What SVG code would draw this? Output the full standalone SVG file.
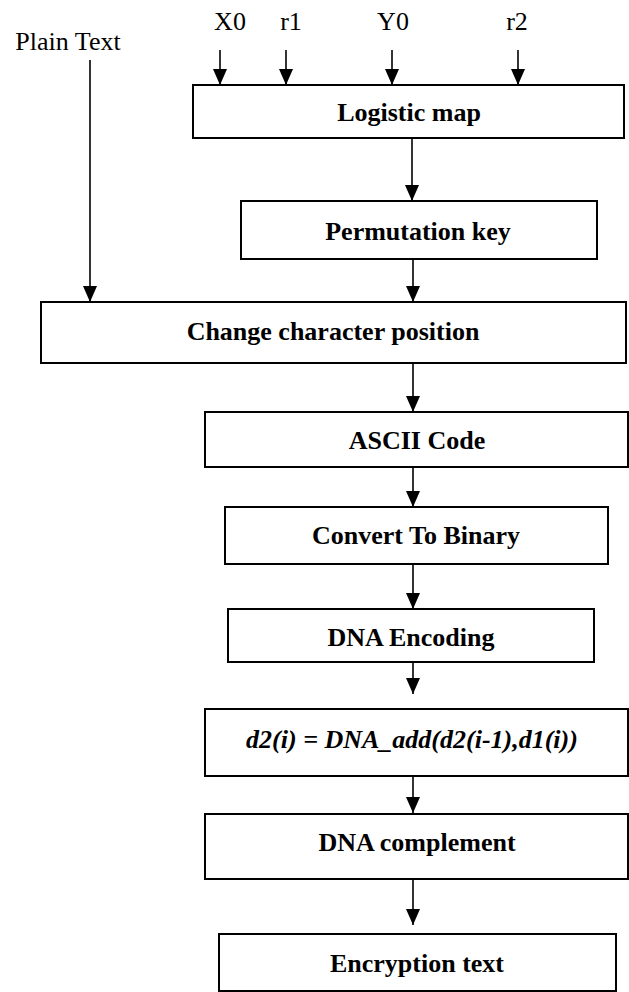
<svg xmlns="http://www.w3.org/2000/svg" width="629" height="992" viewBox="0 0 629 992">
  <style>
    .box { fill: #ffffff; stroke: #000000; stroke-width: 2; }
    .lbl { font-family: "Liberation Serif", "Times New Roman", serif; font-size: 26px; font-weight: bold; fill: #000000; text-anchor: middle; }
    .in { font-family: "Liberation Serif", "Times New Roman", serif; font-size: 26px; fill: #000000; text-anchor: middle; }
    .eq { font-style: italic; }
    .wire { stroke: #000000; stroke-width: 1.6; fill: none; marker-end: url(#head); }
  </style>
  <defs>
    <!-- solid triangular arrowhead, tip at the end of the line -->
    <marker id="head" viewBox="0 0 16 14" refX="16" refY="7" markerWidth="16" markerHeight="14" markerUnits="userSpaceOnUse" orient="auto">
      <path d="M0,0 L16,7 L0,14 Z" fill="#000000"/>
    </marker>
  </defs>

  <!-- input labels -->
  <g id="plain-text"><text class="in" x="68" y="50">Plain Text</text></g>
  <g id="x0"><text class="in" x="230" y="30">X0</text></g>
  <g id="r1"><text class="in" x="291" y="30">r1</text></g>
  <g id="y0"><text class="in" x="393" y="30">Y0</text></g>
  <g id="r2"><text class="in" x="517" y="30">r2</text></g>

  <!-- processing steps -->
  <g id="logistic-map">
    <rect class="box" x="193" y="85" width="431" height="53"/>
    <text class="lbl" x="409" y="121">Logistic map</text>
  </g>
  <g id="permutation-key">
    <rect class="box" x="241" y="201" width="356" height="58"/>
    <text class="lbl" x="418" y="240">Permutation key</text>
  </g>
  <g id="change-position">
    <rect class="box" x="41" y="302" width="585" height="61"/>
    <text class="lbl" x="333" y="340">Change character position</text>
  </g>
  <g id="ascii-code">
    <rect class="box" x="205" y="412" width="423" height="55"/>
    <text class="lbl" x="417" y="449">ASCII Code</text>
  </g>
  <g id="to-binary">
    <rect class="box" x="225" y="507" width="383" height="57"/>
    <text class="lbl" x="416" y="544">Convert To Binary</text>
  </g>
  <g id="dna-encoding">
    <rect class="box" x="228" y="609" width="366" height="53"/>
    <text class="lbl" x="411" y="646">DNA Encoding</text>
  </g>
  <g id="dna-add">
    <rect class="box" x="205" y="709" width="423" height="67"/>
    <text class="lbl eq" x="412" y="748">d2(i) = DNA_add(d2(i-1),d1(i))</text>
  </g>
  <g id="dna-complement">
    <rect class="box" x="205" y="814" width="423" height="65"/>
    <text class="lbl" x="417" y="851">DNA complement</text>
  </g>
  <g id="encryption-text">
    <rect class="box" x="219" y="934" width="397" height="57"/>
    <text class="lbl" x="417" y="972">Encryption text</text>
  </g>

  <!-- connectors -->
  <g id="connectors">
    <line class="wire" x1="220" y1="50" x2="220" y2="85"/>
    <line class="wire" x1="286" y1="50" x2="286" y2="85"/>
    <line class="wire" x1="392" y1="50" x2="392" y2="85"/>
    <line class="wire" x1="518" y1="50" x2="518" y2="85"/>
    <line class="wire" x1="90" y1="60" x2="90" y2="302"/>
    <line class="wire" x1="412" y1="138" x2="412" y2="201"/>
    <line class="wire" x1="413" y1="259" x2="413" y2="302"/>
    <line class="wire" x1="413" y1="363" x2="413" y2="412"/>
    <line class="wire" x1="413" y1="467" x2="413" y2="507"/>
    <line class="wire" x1="413" y1="564" x2="413" y2="609"/>
    <line class="wire" x1="413" y1="662" x2="413" y2="694"/>
    <line class="wire" x1="413" y1="776" x2="413" y2="813"/>
    <line class="wire" x1="413" y1="879" x2="413" y2="925"/>
  </g>
</svg>
